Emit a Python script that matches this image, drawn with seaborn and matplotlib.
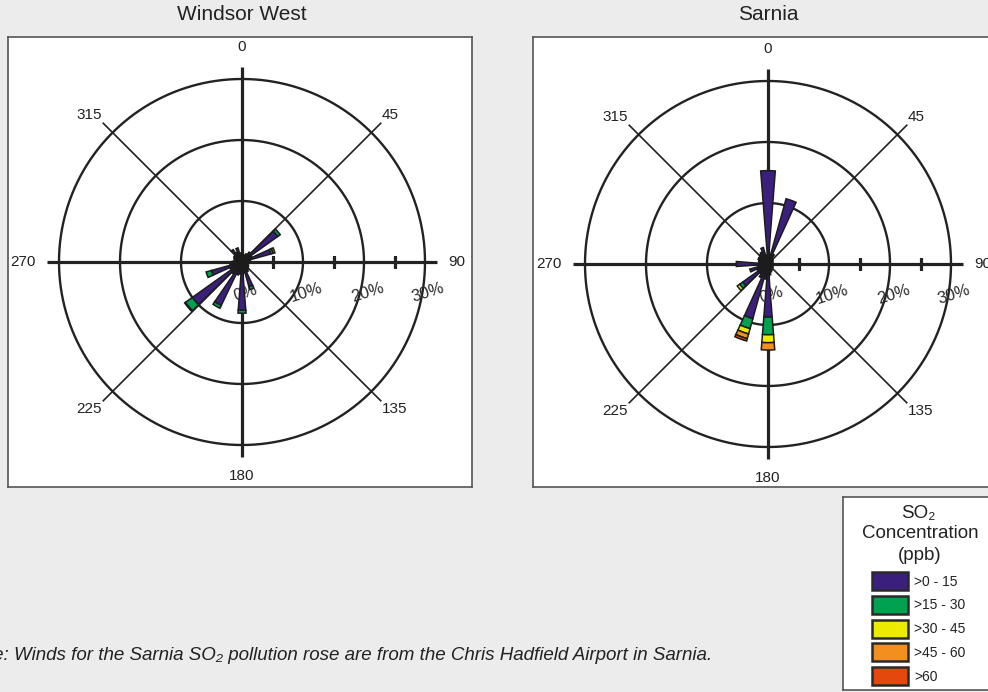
import numpy as np
import matplotlib
matplotlib.use("Agg")
import matplotlib.pyplot as plt
import matplotlib.transforms as mtransforms
from matplotlib.patches import Rectangle
import seaborn as sns

# ---------------------------------------------------------------- data
directions = list(range(0, 360, 10))
bands = [">0 - 15", ">15 - 30", ">30 - 45", ">45 - 60", ">60"]
band_colors = ["#3b1f7c", "#00a14f", "#ecea00", "#f18f1f", "#e5480d"]
compass_labels = ["0", "45", "90", "135", "180", "225", "270", "315"]
ring_values = [10, 20, 30]
pct_labels = ["0%", "10%", "20%", "30%"]

# Windsor West, % of hours per 10-degree sector, per SO2 band
windsor_0_15 = [1.2, 1.0, 1.2, 1.5, 2.0, 7.2, 1.8, 4.9, 1.4, 1.2, 1.0, 1.0,
                1.2, 1.3, 1.5, 1.8, 4.2, 1.8, 7.9, 2.0, 2.2, 7.9, 2.4, 10.0,
                2.2, 5.2, 2.0, 1.6, 1.3, 1.3, 1.5, 1.6, 2.5, 1.8, 2.4, 1.5]
windsor_15_30 = [0, 0, 0, 0, 0, 0.5, 0, 0.4, 0, 0, 0, 0,
                 0, 0, 0, 0, 0.5, 0, 0.5, 0, 0, 0.5, 0, 1.4,
                 0, 0.9, 0, 0, 0, 0, 0, 0, 0, 0, 0, 0]
windsor_30_45 = [0, 0, 0, 0, 0, 0, 0, 0.3, 0, 0, 0, 0,
                 0, 0, 0, 0, 0, 0, 0, 0, 0, 0, 0, 0.15,
                 0, 0, 0, 0, 0, 0, 0, 0, 0, 0, 0, 0]
windsor_45_60 = [0] * 36
windsor_60 = [0] * 36

# Sarnia
sarnia_0_15 = [15.3, 1.5, 11.1, 1.8, 1.2, 1.0, 0.9, 0.8, 0.8, 0.8, 0.8, 0.8,
               0.9, 1.0, 1.0, 1.2, 1.4, 1.8, 8.7, 2.5, 9.3, 2.5, 2.0, 5.1,
               2.0, 3.1, 1.5, 5.2, 1.5, 1.6, 1.8, 1.8, 2.0, 2.2, 2.8, 1.5]
sarnia_15_30 = [0, 0, 0, 0, 0, 0, 0, 0, 0, 0, 0, 0,
                0, 0, 0, 0, 0, 0, 2.9, 0, 1.7, 0, 0, 0.6,
                0, 0, 0, 0, 0, 0, 0, 0, 0, 0, 0, 0]
sarnia_30_45 = [0, 0, 0, 0, 0, 0, 0, 0, 0, 0, 0, 0,
                0, 0, 0, 0, 0, 0, 1.3, 0, 0.9, 0, 0, 0.5,
                0, 0, 0, 0, 0, 0, 0, 0, 0, 0, 0, 0]
sarnia_45_60 = [0, 0, 0, 0, 0, 0, 0, 0, 0, 0, 0, 0,
                0, 0, 0, 0, 0, 0, 1.2, 0, 0.8, 0, 0, 0,
                0, 0, 0, 0, 0, 0, 0, 0, 0, 0, 0, 0]
sarnia_60 = [0, 0, 0, 0, 0, 0, 0, 0, 0, 0, 0, 0,
             0, 0, 0, 0, 0, 0, 0, 0, 0.4, 0, 0, 0,
             0, 0, 0, 0, 0, 0, 0, 0, 0, 0, 0, 0]

note = ("Note: Winds for the Sarnia SO\u2082 pollution rose are from the "
        "Chris Hadfield Airport in Sarnia.")

# ---------------------------------------------------------------- style
sns.set_theme(style="white")
palette = sns.color_palette(band_colors)
plt.rcParams["font.family"] = ["Liberation Sans", "DejaVu Sans"]
INK = "#222222"

W, H, DPI = 988, 692, 100
fig = plt.figure(figsize=(W / DPI, H / DPI), dpi=DPI, facecolor="#ececec")


def fx(x):
    return x / W


def fy(y):
    return 1 - y / H


PX_PER_PCT = 6.1
R_MAX = 36


def draw_panel(title, cx, cy, box_left, stacks):
    box = fig.add_axes([fx(box_left), fy(487), 464 / W, 450 / H])
    box.set_facecolor("white")
    box.set_xticks([])
    box.set_yticks([])
    for s in box.spines.values():
        s.set_color("#555555")
        s.set_linewidth(1.2)
    fig.text(fx(cx), fy(15), title, ha="center", va="center",
             fontsize=15, color=INK)

    half = R_MAX * PX_PER_PCT
    ax = fig.add_axes([fx(cx - half), fy(cy + half), 2 * half / W, 2 * half / H],
                      projection="polar")
    ax.set_theta_zero_location("N")
    ax.set_theta_direction(-1)
    ax.set_ylim(0, R_MAX)
    ax.set_axis_off()

    # rings
    th = np.linspace(0, 2 * np.pi, 721)
    for r in ring_values:
        ax.plot(th, np.full_like(th, r), color=INK, lw=1.7, zorder=1)

    # spokes: main axes thick, diagonals thin
    for deg in (0, 90, 180, 270):
        ax.plot([np.deg2rad(deg)] * 2, [0, 32], color=INK, lw=2.3,
                solid_capstyle="butt", zorder=1)
    for deg in (45, 135, 225, 315):
        ax.plot([np.deg2rad(deg)] * 2, [0, 32.3], color=INK, lw=1.2,
                solid_capstyle="butt", zorder=1)

    # minor ticks on the east axis
    ax.plot([np.pi / 2] * 3, [5, 15, 25], ls="none", marker="|", ms=9,
            mew=2.3, color=INK, zorder=1)

    # percent labels, offset below the east axis
    off = mtransforms.offset_copy(ax.transData, fig=fig, x=2, y=-31,
                                  units="dots")
    for lab, r in zip(pct_labels, [0] + ring_values):
        ax.text(np.pi / 2, r + 0.2, lab, transform=off, ha="center",
                va="center", rotation=18, rotation_mode="anchor",
                fontsize=12, color="#2a2a2a", zorder=2)

    # compass labels
    anchors = {
        "0": ("center", "bottom", 34.1),
        "45": ("left", "bottom", 32.4),
        "90": ("left", "center", 33.8),
        "135": ("left", "top", 32.4),
        "180": ("center", "top", 34.0),
        "225": ("right", "top", 32.4),
        "270": ("right", "center", 33.8),
        "315": ("right", "bottom", 32.4),
    }
    for lab in compass_labels:
        ha, va, r = anchors[lab]
        ax.text(np.deg2rad(float(lab)), r, lab, ha=ha, va=va, fontsize=11,
                color=INK, zorder=2)

    # stacked wedges
    theta = np.deg2rad(directions)
    bottom = np.zeros(len(directions))
    for vals, col in zip(stacks, palette):
        vals = np.asarray(vals, dtype=float)
        keep = vals > 0
        if keep.any():
            ax.bar(theta[keep], vals[keep], width=np.deg2rad(9),
                   bottom=bottom[keep], color=col, edgecolor="#1c1c1c",
                   linewidth=1.1, zorder=3)
        bottom = bottom + vals
    return ax


draw_panel("Windsor West", 242, 262, 8,
           [windsor_0_15, windsor_15_30, windsor_30_45, windsor_45_60, windsor_60])
draw_panel("Sarnia", 768, 264, 533,
           [sarnia_0_15, sarnia_15_30, sarnia_30_45, sarnia_45_60, sarnia_60])

# ---------------------------------------------------------------- legend
lg = fig.add_axes([fx(843), fy(690), (1000 - 843) / W, (690 - 497) / H])
lg.set_xlim(0, 157)
lg.set_ylim(193, 0)
lg.set_facecolor("white")
lg.set_xticks([])
lg.set_yticks([])
for s in lg.spines.values():
    s.set_color("#555555")
    s.set_linewidth(1.2)
lg.text(75, 17, "SO\u2082", ha="center", va="center", fontsize=13.5, color=INK)
lg.text(77, 36, "Concentration", ha="center", va="center", fontsize=13.5,
        color=INK)
lg.text(77, 59, "(ppb)", ha="center", va="center", fontsize=13.5, color=INK)
for i, (lab, col) in enumerate(zip(bands, palette)):
    top = 75 + i * 23.8
    lg.add_patch(Rectangle((29, top), 36, 18, facecolor=col,
                           edgecolor="#2a2a2a", linewidth=1.8))
    lg.text(71, top + 9.5, lab, ha="left", va="center", fontsize=10,
            color=INK)

# ---------------------------------------------------------------- note
fig.text(fx(712), fy(655), note, ha="right", va="center", fontsize=13.5,
         style="italic", color=INK)

fig.savefig("out.png", dpi=DPI, facecolor=fig.get_facecolor())
